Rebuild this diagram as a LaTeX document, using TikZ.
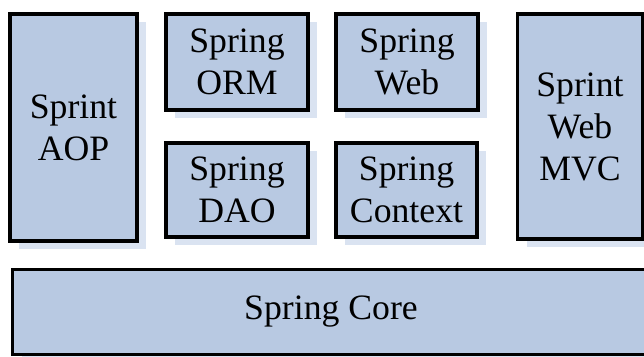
\documentclass[tikz,border=0pt]{standalone}
\usepackage{fontspec}
\setmainfont{Liberation Serif}
\usepackage{tikz}
\usetikzlibrary{positioning, shadows}

\definecolor{boxblue}{RGB}{184,201,226}
\definecolor{shadowblue}{RGB}{218,227,241}

\begin{document}
\begin{tikzpicture}[
    x=1pt, y=-1pt,
    module/.style={rectangle, draw=black, line width=3.6pt, fill=boxblue,
        inner sep=0pt, align=center, font=\fontsize{35.7}{42}\selectfont,
        drop shadow={shadow xshift=9pt, shadow yshift=-8pt, fill=shadowblue, draw=none, opacity=1}},
]

\clip (0,0) rectangle (644,356);
\fill[white] (0,0) rectangle (644,356);

% Draw the modules
\node[module, minimum width=127pt, minimum height=227pt] (aop) at (73.5,127.5) {Sprint\\AOP};
\node[module, minimum width=142pt, minimum height=96pt] (orm) at (237,62) {Spring\\ORM};
\node[module, minimum width=142pt, minimum height=96pt] (web) at (407,62) {Spring\\Web};
\node[module, minimum width=142pt, minimum height=94pt] (dao) at (237,190) {Spring\\DAO};
\node[module, minimum width=141pt, minimum height=94pt] (context) at (406.5,190) {Spring\\Context};
\node[module, minimum width=125pt, minimum height=225pt] (mvc) at (580,126.5) {Sprint\\Web\\MVC};

% Core layer
\node[module, minimum width=637pt, minimum height=85pt] (core) at (331,312) {Spring Core};

\end{tikzpicture}
\end{document}
